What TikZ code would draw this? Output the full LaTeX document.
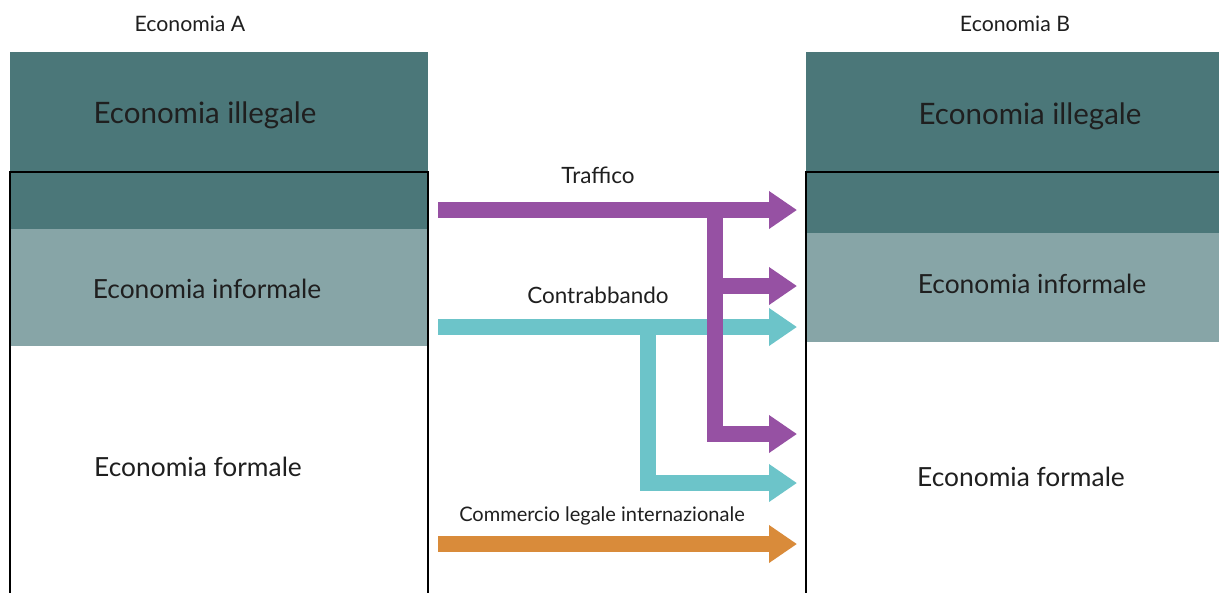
\documentclass[tikz,border=0pt]{standalone}
\usepackage{fontspec}
\setmainfont{Lato}
\usetikzlibrary{arrows.meta}

\definecolor{illegale}{HTML}{4B7779}
\definecolor{informale}{HTML}{87A5A7}
\definecolor{traffico}{HTML}{9651A3}
\definecolor{contrab}{HTML}{6CC4C9}
\definecolor{commercio}{HTML}{D98B3A}

\begin{document}
\begin{tikzpicture}[
    x=0.02cm, y=-0.02cm,
    every node/.style={text=black!88, inner sep=0pt},
    title/.style={font=\fontsize{12.1}{14}\selectfont},
    sector/.style={font=\fontsize{15}{18}\selectfont},
    bigsector/.style={font=\fontsize{16.8}{20}\selectfont},
    flowlabel/.style={font=\fontsize{12.8}{15}\selectfont},
    flow/.style={line width=0.32cm, line join=miter,
        -{Triangle[length=0.56cm, width=0.72cm]}},
]
\useasboundingbox (0,0) rectangle (1219,592);

% the two economies: illegal band, informal band, framed body
\fill[illegale]  (10,52)  rectangle (428,229);
\fill[informale] (10,229) rectangle (428,346);
\draw[line width=1.4pt] (10,600) -- (10,172) -- (428,172) -- (428,600);
\fill[illegale]  (806,52)  rectangle (1225,233);
\fill[informale] (806,233) rectangle (1225,342);
\draw[line width=1.4pt] (806,600) -- (806,172) -- (1225,172);

\node[title] (titA) at (190,24) {Economia A};
\node[title] (titB) at (1015,24) {Economia B};

\node[bigsector] (illA) at (205,115) {Economia illegale};
\node[sector] (infA) at (207,289) {Economia informale};
\node[sector] (forA) at (198,467) {Economia formale};
\node[bigsector] (illB) at (1030,116) {Economia illegale};
\node[sector] (infB) at (1032,284) {Economia informale};
\node[sector] (forB) at (1021,477) {Economia formale};

% start and end points of the flows
\coordinate (trafA) at (438,210);
\coordinate (contA) at (438,327);
\coordinate (commA) at (438,544);
\foreach \name/\y in {trafB1/210, trafB2/286, contB1/327, trafB3/434, contB2/483, commB/544} {
    \coordinate (\name) at (797,\y);
}
\coordinate (trafV) at (715,210);
\coordinate (contV) at (648,327);

% smuggling first, trafficking runs over it
\draw[flow, contrab] (contA) -- (contB1);
\draw[flow, contrab] (contV) |- (contB2);
\draw[flow, traffico] (trafA) -- (trafB1);
\draw[flow, traffico] (trafV |- trafB2) -- (trafB2);
\draw[flow, traffico] (trafV) |- (trafB3);
\draw[flow, commercio] (commA) -- (commB);

\node[flowlabel] (trafL) at (598,175) {Traffico};
\node[flowlabel] (contL) at (598,295) {Contrabbando};
\node[flowlabel, font=\fontsize{11.4}{13}\selectfont] (commL) at (602,516) {Commercio legale internazionale};
\end{tikzpicture}
\end{document}
